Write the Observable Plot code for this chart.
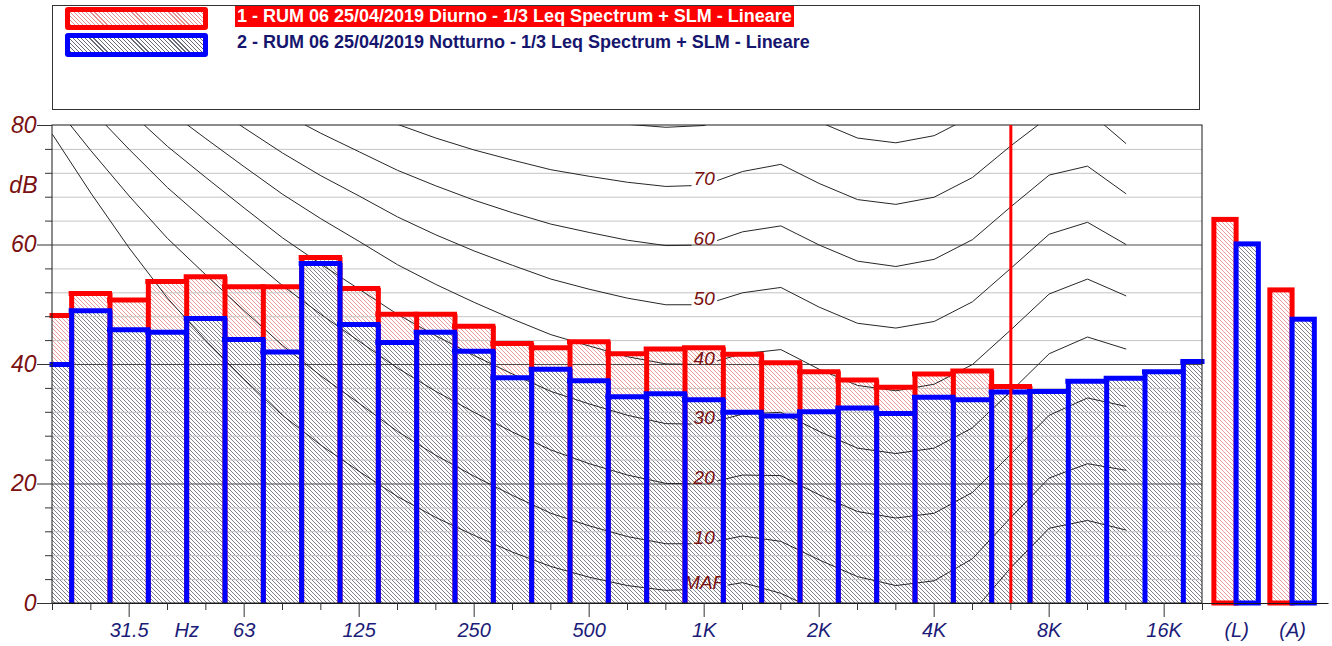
<!DOCTYPE html>
<html>
<head>
<meta charset="utf-8">
<script src="https://cdn.jsdelivr.net/npm/d3@7"></script>
<script src="https://cdn.jsdelivr.net/npm/@observablehq/plot@0.6"></script>
<style>
html,body{margin:0;padding:0;background:#fff;}
#wrap{position:relative;width:1332px;height:646px;overflow:hidden;font-family:"Liberation Sans",Arial,sans-serif;}
#legend{position:relative;width:1332px;height:112px;}
.lbox{position:absolute;left:52px;top:5px;width:1148px;height:105px;border:1px solid #333;box-sizing:border-box;}
.sw{position:absolute;left:65px;width:143px;box-sizing:border-box;border-width:5px;border-style:solid;border-radius:3px;}
.sw1{top:7px;height:23px;border-color:#ff0000;background:repeating-linear-gradient(45deg,#e89090 0 0.9px,#fff 0.9px 2.9px);}
.sw2{top:33px;height:24px;border-color:#0000ff;background:repeating-linear-gradient(45deg,#6a6a78 0 0.9px,#fff 0.9px 2.9px);}
.lt{position:absolute;left:235px;font-weight:bold;font-size:18px;line-height:21px;white-space:nowrap;padding:0 2px;}
.lt1{top:6px;background:#ff0000;color:#fff;}
.lt2{top:32px;color:#16166e;}
#chart{position:relative;width:1332px;height:534px;}
</style>
</head>
<body>
<div id="wrap">
  <div id="legend">
    <div class="lbox"></div>
    <div class="sw sw1"></div>
    <div class="sw sw2"></div>
    <div class="lt lt1" id="t1"></div>
    <div class="lt lt2" id="t2"></div>
  </div>
  <div id="chart"></div>
</div>
<script>
// ---------- data ----------
const series1Name = "1 - RUM 06 25/04/2019 Diurno - 1/3 Leq Spectrum + SLM - Lineare";
const series2Name = "2 - RUM 06 25/04/2019 Notturno - 1/3 Leq Spectrum + SLM - Lineare";

const bands = ["20","25","31.5","40","50","63","80","100","125","160","200","250","315","400","500","630","800","1K","1.25K","1.6K","2K","2.5K","3.15K","4K","5K","6.3K","8K","10K","12.5K","16K","20K"];
const diurno = [48.2, 51.9, 50.8, 53.9, 54.7, 53.0, 53.0, 57.9, 52.7, 48.4, 48.4, 46.4, 43.5, 42.8, 43.8, 41.8, 42.6, 42.8, 41.7, 40.3, 38.8, 37.4, 36.2, 38.4, 38.9, 36.3, null, null, null, null, null];
const notturno = [40.0, 49.0, 45.8, 45.4, 47.7, 44.2, 42.1, 56.9, 46.7, 43.7, 45.4, 42.2, 37.8, 39.2, 37.3, 34.6, 35.1, 34.1, 32.0, 31.4, 32.1, 32.7, 31.8, 34.5, 34.1, 35.4, 35.5, 37.2, 37.7, 38.8, 40.5];

const summaryNames = ["(L)", "(A)"];
const diurnoSummary = [64.2, 52.4];
const notturnoSummary = [60.1, 47.5];

const axisLabels = ["31.5","Hz","63","125","250","500","1K","2K","4K","8K","16K"];
const cursorBand = "6.3K";

// equal-loudness contours (20 Hz .. 12.5 kHz, per 1/3 octave band)
const contourNames = ["MAF","10","20","30","40","50","60","70","80"];
const phonMAF = [78.5, 68.7, 59.5, 51.1, 44.0, 37.5, 31.5, 26.5, 22.1, 17.9, 14.4, 11.4, 8.6, 6.2, 4.4, 3.0, 2.2, 2.4, 3.5, 1.7, -1.3, -4.2, -6.0, -5.4, -1.5, 6.0, 12.6, 13.9, 12.3];
const phon10 = [83.8, 75.8, 68.2, 61.1, 55.0, 49.0, 43.2, 38.1, 33.5, 28.8, 24.8, 21.3, 18.1, 15.1, 13.0, 11.2, 10.0, 10.0, 11.3, 10.4, 7.3, 4.5, 3.0, 3.8, 7.5, 14.4, 21.0, 23.4, 22.3];
const phon20 = [89.6, 82.7, 76.0, 69.6, 64.0, 58.6, 53.2, 48.4, 43.9, 39.4, 35.5, 32.0, 28.7, 25.7, 23.4, 21.5, 20.1, 20.0, 21.5, 21.4, 18.2, 15.4, 14.3, 15.1, 18.6, 25.0, 31.5, 34.4, 33.0];
const phon30 = [94.9, 88.5, 82.4, 76.5, 71.3, 66.2, 61.2, 56.8, 52.6, 48.4, 44.8, 41.5, 38.4, 35.5, 33.4, 31.5, 30.1, 30.0, 31.7, 32.0, 28.8, 26.0, 25.1, 26.0, 29.4, 35.5, 41.8, 44.6, 42.6];
const phon40 = [99.9, 93.9, 88.2, 82.6, 77.8, 73.1, 68.5, 64.4, 60.6, 56.7, 53.4, 50.4, 47.6, 45.0, 43.1, 41.3, 40.1, 40.0, 41.8, 42.5, 39.2, 36.5, 35.6, 36.7, 40.0, 45.8, 51.8, 54.3, 51.5];
const phon50 = [104.7, 99.1, 93.7, 88.5, 84.0, 79.6, 75.4, 71.6, 68.2, 64.7, 61.7, 59.0, 56.6, 54.3, 52.6, 51.1, 50.0, 50.0, 52.0, 52.9, 49.6, 46.9, 46.1, 47.2, 50.5, 56.1, 61.8, 63.8, 60.1];
const phon60 = [109.5, 104.2, 99.1, 94.2, 90.0, 85.9, 82.1, 78.7, 75.6, 72.5, 69.9, 67.5, 65.4, 63.5, 62.1, 60.8, 59.9, 60.0, 62.2, 63.2, 60.0, 57.3, 56.4, 57.6, 60.9, 66.4, 71.7, 73.2, 68.6];
const phon70 = [114.3, 109.3, 104.4, 99.8, 95.9, 92.2, 88.6, 85.6, 82.9, 80.2, 77.9, 75.9, 74.2, 72.6, 71.5, 70.5, 69.8, 70.0, 72.3, 73.5, 70.3, 67.6, 66.8, 68.0, 71.3, 76.6, 81.5, 82.5, 77.0];
const phon80 = [119.0, 114.2, 109.7, 105.3, 101.7, 98.4, 95.2, 92.5, 90.1, 87.8, 85.9, 84.3, 82.9, 81.7, 80.9, 80.2, 79.7, 80.0, 82.5, 83.7, 80.6, 77.9, 77.1, 78.3, 81.6, 86.8, 91.4, 91.7, 85.4];

// ---------- legend ----------
document.getElementById("t1").textContent = series1Name;
document.getElementById("t2").textContent = series2Name;

// ---------- chart ----------
const FONT = '"Liberation Sans", Arial, sans-serif';
const RED = "#ff0000", BLUE = "#0000ff", RED_TXT = "#7a1010", NAVY = "#1b1b78";
const W = 1332, H = 534, yMax = 80;
const last = bands.length - 1;
const oneK = bands.indexOf("1K");

const rows = bands.map((b, i) => ({i, x1: Math.max(0, i - 0.5), x2: Math.min(last, i + 0.5), d: diurno[i], n: notturno[i]}));
const redRows = rows.filter(r => r.d != null);
const sideRows = key => d3.range(last)
  .map(i => ({x: i + 0.5, v: Math.max(rows[i][key] ?? 0, rows[i + 1][key] ?? 0)}))
  .filter(s => s.v > 0);

const halfW = 0.58;
const summary = summaryNames.map((name, k) => ({name, c: last + 0.89 + k * 1.46, d: diurnoSummary[k], n: notturnoSummary[k]}));

const contourSeries = [phonMAF, phon10, phon20, phon30, phon40, phon50, phon60, phon70, phon80];
const contourRows = contourNames.flatMap((name, k) => contourSeries[k].map((v, i) => ({name, i, v})));
const contourLabels = contourNames.map((name, k) => ({name, v: contourSeries[k][oneK]})).filter(d => d.v < yMax);

const labelPos = axisLabels.map(t => ({t, x: bands.includes(t) ? bands.indexOf(t) : (bands.indexOf("40") + bands.indexOf("50")) / 2}));
const majorTicks = axisLabels.filter(t => bands.includes(t)).map(t => bands.indexOf(t));
const minorTicks = d3.range(bands.length).filter(i => !majorTicks.includes(i));
const yMajor = d3.range(0, yMax + 1, 20);
const yMinor = d3.range(0, yMax + 1, 4).filter(v => v % 20);

const svg = Plot.plot({
  width: W, height: H,
  marginLeft: 52, marginRight: 3.5, marginTop: 13, marginBottom: 43,
  x: {domain: [0, 33.3], axis: null},
  y: {domain: [0, yMax], axis: null},
  style: {fontFamily: FONT, background: "transparent", overflow: "visible"},
  marks: [
    Plot.rect(redRows, {x1: "x1", x2: "x2", y1: 0, y2: "d", fill: "url(#hatchRed)"}),
    Plot.rect(rows, {x1: "x1", x2: "x2", y1: 0, y2: "n", fill: "url(#hatchBlue)"}),
    Plot.ruleY(yMinor, {x1: 0, x2: last, stroke: "#c4c4c4", strokeWidth: 1}),
    Plot.ruleY(yMajor.filter(v => v > 0 && v < yMax), {x1: 0, x2: last, stroke: "#4a4a4a", strokeWidth: 1}),
    Plot.line(contourRows, {x: "i", y: "v", z: "name", stroke: "#262626", strokeWidth: 1, clip: true, ariaDescription: "contours"}),
    Plot.text(contourLabels, {x: oneK, y: "v", text: "name", lineAnchor: "bottom", textAnchor: "middle", fill: RED_TXT, fontSize: 19, fontStyle: "italic", ariaDescription: "contour-labels"}),
    Plot.ruleX(sideRows("d"), {x: "x", y1: 0, y2: "v", stroke: RED, strokeWidth: 5}),
    Plot.ruleY(redRows, {x1: "x1", x2: "x2", y: "d", stroke: RED, strokeWidth: 5, insetLeft: -2.5, insetRight: -2.5}),
    Plot.ruleX(sideRows("n"), {x: "x", y1: 0, y2: "v", stroke: BLUE, strokeWidth: 5}),
    Plot.ruleY(rows, {x1: "x1", x2: "x2", y: "n", stroke: BLUE, strokeWidth: 5, insetLeft: -2.5, insetRight: -2.5}),
    Plot.rect(summary, {x1: d => d.c - halfW, x2: "c", y1: 0, y2: "d", fill: "url(#hatchRed)", stroke: RED, strokeWidth: 5}),
    Plot.rect(summary, {x1: "c", x2: d => d.c + halfW, y1: 0, y2: "n", fill: "url(#hatchBlue)", stroke: BLUE, strokeWidth: 5}),
    Plot.rect([0], {x1: 0, x2: last, y1: 0, y2: yMax, fill: "none", stroke: "#1a1a1a", strokeWidth: 1}),
    Plot.ruleY([0], {stroke: "#1a1a1a", strokeWidth: 1}),
    Plot.ruleX([bands.indexOf(cursorBand)], {y1: 0, y2: yMax, stroke: RED, strokeWidth: 3}),
    Plot.axisX(minorTicks, {tickSize: 7, tickFormat: () => "", stroke: "#333", label: null}),
    Plot.axisX(majorTicks, {tickSize: 14, tickFormat: () => "", stroke: "#333", label: null}),
    Plot.axisY(yMinor, {tickSize: 7, tickFormat: () => "", stroke: "#333", label: null}),
    Plot.axisY(yMajor, {tickSize: 15, tickPadding: 1, stroke: "#333", fill: RED_TXT, fontSize: 23, fontStyle: "italic", label: null}),
    Plot.text(labelPos, {x: "x", y: 0, dy: 27, text: "t", lineAnchor: "middle", fill: NAVY, fontSize: 20, fontStyle: "italic"}),
    Plot.text(summary, {x: "c", y: 0, dy: 27, text: "name", lineAnchor: "middle", fill: NAVY, fontSize: 20, fontStyle: "italic"}),
    Plot.text(["dB"], {x: 0, y: 70, dx: -15, textAnchor: "end", lineAnchor: "middle", fill: RED_TXT, fontSize: 23, fontStyle: "italic"})
  ]
});

document.getElementById("chart").append(svg);

// hatch patterns
const defs = d3.select(svg).insert("defs", ":first-child");
defs.html(`
<pattern id="hatchRed" patternUnits="userSpaceOnUse" width="4" height="4">
  <rect width="4" height="4" fill="#ffffff"/>
  <path d="M-1,-1L5,5M3,-1L5,1M-1,3L1,5" stroke="#e89090" stroke-width="0.9"/>
</pattern>
<pattern id="hatchBlue" patternUnits="userSpaceOnUse" width="4" height="4">
  <rect width="4" height="4" fill="#ffffff"/>
  <path d="M-1,-1L5,5M3,-1L5,1M-1,3L1,5" stroke="#6a6a78" stroke-width="0.85"/>
</pattern>`);

// gaps in the contour lines behind their labels
const sb = svg.getBoundingClientRect();
const mask = defs.append("mask").attr("id", "contourGap").attr("maskUnits", "userSpaceOnUse")
  .attr("x", 0).attr("y", 0).attr("width", W).attr("height", H);
mask.append("rect").attr("width", W).attr("height", H).attr("fill", "white");
svg.querySelectorAll('g[aria-description="contour-labels"] text').forEach(t => {
  const b = t.getBoundingClientRect();
  mask.append("rect").attr("x", b.left - sb.left - 2).attr("y", b.top - sb.top)
    .attr("width", b.width + 4).attr("height", b.height).attr("fill", "black");
});
const cg = svg.querySelector('g[aria-description="contours"]');
if (cg) cg.setAttribute("mask", "url(#contourGap)");
</script>
</body>
</html>
